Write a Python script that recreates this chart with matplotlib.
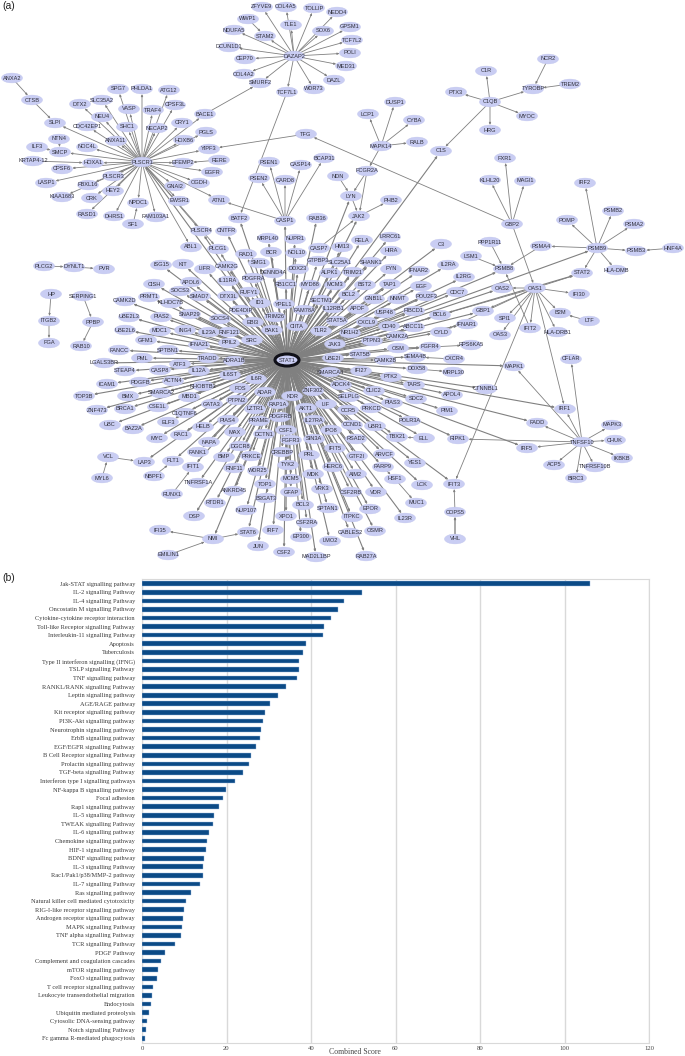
import matplotlib
matplotlib.use('Agg')
import matplotlib.pyplot as plt
from matplotlib.patches import Ellipse
import numpy as np

# network nodes in pixels, by region
names_a = ['ZFYVE9','COL4A5','TOLLIP','NEDD4','WWP1','TLE1','SOX6','NDUFA5','STAM2','DCUN1D1','DAZAP2','CEP70','COL4A2','SMURF2','TCF7L1','WDR73','DAZL','GPSM1','TCF7L2','POLI','MED31',
           'ANXA2','CTSB','SLPI','SPG7','PHLDA1','ATG12','DTX2','SLC35A2','VASP','TRAF4','CPSF3L','BACE1','NEU4','CRY1','CDC42EP1','SHC1','NECAP2','PGLS','NTN4','ANXA11','HOXB6','TFG','ILF3','NOC4L','YIPF3','SMCP','RERE','KRTAP4-12','HOXA1','PLSCR1','EFEMP2','CPSF6','EGFR','PLSCR3','LASP1','FBXL16','OGDH','GNAI2','PSEN1','CASP14','BCAP31','NDN','PSEN2','CARD8']
x_a = [262,286,314,337,248,291,323,234,265,229,294,245,244,260,287,314,334,350,352,350,346,
       12,32,55,118,142,169,80,102,129,153,175,205,102,182,87,127,157,206,59,116,184,306,37,87,209,60,219,33,93,142,183,62,212,113,46,88,199,175,269,301,324,338,259,285]
y_a = [7,7,8,12,19,25,31,30,36,47,56,59,74,83,92,89,80,27,40,53,66,
       78,100,123,89,89,90,104,100,109,110,105,114,117,123,126,127,128,132,139,141,140,134,147,147,149,152,160,161,163,162,163,169,172,176,183,185,183,186,162,165,158,176,178,180]

names_b = ['NCR2','C1R','TYROBP','TREM2','PTX3','C1QB','DUSP1','LCP1','MYOC','CYBA','HRG','RALB','MAPK14','C1S','FXR1','FCGR2A','KLHL20','MAGI1','IRF2']
x_b = [548,486,533,570,456,490,395,368,527,414,490,417,381,441,505,367,490,525,585]
y_b = [59,71,89,84,92,102,102,114,116,120,130,142,146,151,158,171,180,181,183]

names_c = ['HEY2','KIAA1683','CRK','NPDC1','EWSR1','ATN1','RASD1','DHRS1','FAM103A1','SF1','BATF2','CASP1','RAB36','PLSCR4','CNTFR','MRPL40','NUPR1','ABL1','PLCG1','RAD1','BCR','NOL10','CASP7','HM13','SMG1','GTPBP3','SLC25A1',
           'PLCG2','DYNLT1','PVR','ISG15','KIT','LIFR','CAMK2G','DENND4A','DDX23','ALPK1','HP','SERPING1','CISH','APOL6','IL11RA','PDGFRA','RB1CC1','MYD88','MCM3','SOCS3','SMAD7','DTX3L','RUFY1','PRMT1','SECTM1','KLHDC7B','ID1','YPEL1','CAMK2D','IL12RB1','PDE4DIP','FAM78A','SNAP29','TRIM26','UBE2L3','PIAS2','SOCS4','EBI3','ITGB2','PPBP','STAT5A','BAK1','CIITA','TLR2','UBE2L6','MDC1','ING4','IL23A','RNF121','GFM1','SRC','JAK3','PPIL2','IFNA21','FGA','RAB10','FANCC','SPTBN1','PML','TRADD','ADRA1B','STAT1','UBE2I','LGALS3BP','ATF3','CASP8','STEAP4','IL12A','IL6ST','SMARCA4','IL6R']
x_c = [113,62,92,138,179,219,87,114,156,133,239,285,317,201,226,268,295,191,218,246,271,296,319,342,259,318,340,
       44,74,104,161,183,205,227,273,298,330,51,83,154,191,228,253,286,310,335,180,200,228,249,149,321,171,260,284,125,333,241,304,190,275,129,161,220,253,49,93,337,272,297,321,125,160,185,209,229,146,252,335,229,199,49,81,119,168,142,208,234,287,333,104,180,160,125,199,230,330,256]
y_c = [191,197,198,203,201,200,214,216,217,224,218,221,218,231,231,238,239,247,249,254,252,253,248,247,263,261,262,
       266,267,269,265,264,269,266,273,269,273,294,296,284,282,281,278,284,285,285,291,296,296,292,297,300,303,303,304,301,308,310,310,314,317,317,317,319,322,321,322,321,330,326,331,330,331,330,332,332,340,340,344,343,345,343,346,350,350,358,358,361,360,358,363,364,370,371,371,375,372,379]

names_d = ['LYN','PHB2','JAK2','GBP2','PSMB2','POMP','PSMA2','LRRC61','RELA','C3','PPP1R11','PSMB9','PSMA4','PSMB3','HNF4A','HIRA','LSM1','SHANK1','IL2RA','PSMB8','HLA-DMB','STAT2','FYN','IFNAR2','TRIM21','IL2RG','BST2','TAP1','EGF','OAS1','OAS2','CDC7','IFI30','BCL2','GNB1L','NNMT','POU2F3','APOF','FIBCD1','GBP1','B2M','USP48','SPI1','BCL6','LTF','CXCL9','CD40','ABCC11','IFNAR1','IFIT2','HLA-DRB1','CYLD','NR1H2','CAMK2A','OAS3','PTPN3','OSM','FGFR4','RPS6KA5','STAT5B','CAMK2B','SEMA4B','CXCR4','CFLAR','MAPK1','DDX58','IFI27','MRPL30','PTK2']
x_d = [351,391,359,512,613,567,634,390,362,441,490,597,541,636,673,391,471,371,448,504,616,582,391,419,353,464,365,390,421,535,502,457,579,349,374,398,426,358,414,483,560,385,505,440,589,367,389,414,467,530,557,441,350,397,500,372,398,430,471,360,385,415,454,571,514,417,361,453,391]
y_d = [196,200,216,224,211,220,224,237,240,244,242,248,246,251,248,251,256,262,265,269,270,273,269,271,272,277,285,284,286,288,288,292,294,295,299,299,296,309,311,311,313,313,318,315,321,322,326,327,324,328,332,332,333,336,335,341,348,347,345,354,360,357,359,359,366,369,371,372,377]

names_e = ['ICAM1','PDGFB','ACTN4','RHOBTB3','FOS','ADAR','KDR','ZNF302','ADCK4','TOP3B','BMX','SMARCA2','MBD1','PTPN2','GATA3','RAP1A','LIF','SELPLG','ZNF473','BRCA1','CSE1L','LZTR1','AKT1','C1QTNF6','PDGFRB','PIAS4','PRAME','IL27RA','UBC','ELF3','HELB','BAZ2A','CSF1','IPO8','MAX','DCTN1','RAC1','MYC','SIN3A','FGFR3','NAPA','DGCR8','IFIT5','CREBBP','FANK1','PRKCE','PRL','VCL','BMP','FLT1','LAP3','TYK2','IFIT1','HERC6','RNF11','WDR25','MDK','NBPF1','MYL6','MCM5','TNFRSF1A','TOP1','VRK3','GFAP','ANKRD45','RUNX1','B3GAT3','RTDR1','BCL3','NUP107','SPTAN1','DSP','XPO1','CSF2RA','IFI35','IRF7','STAT6','EP300','NMI','LMO2','JUN','CSF2','EMILIN1','MAD2L1BP']
x_e = [107,140,173,203,240,265,292,313,341,84,128,161,189,237,212,278,326,349,97,125,158,255,306,185,280,228,259,314,110,168,203,133,286,331,235,264,181,157,314,291,209,240,335,282,198,251,309,108,224,173,144,288,193,333,234,258,313,154,102,291,198,265,322,291,234,172,266,215,303,246,328,194,286,307,160,273,248,301,213,330,258,284,168,316]
y_e = [384,382,381,386,388,392,396,391,385,396,396,393,397,400,404,404,404,397,410,409,407,409,408,413,417,420,421,420,425,422,427,429,430,430,432,434,435,438,439,440,442,446,448,452,452,456,455,457,457,461,462,465,467,467,468,471,474,476,478,479,483,484,489,492,491,494,498,503,505,510,508,516,516,523,530,530,532,537,539,541,546,552,555,557]

names_f = ['CTNNBL1','TARS','CLIC2','APOL4','SDC2','PIAS3','PIM1','PRKCD','CCR5','IRF1','POLR3A','FADD','MAPK3','CCND1','UBR1','TBX21','ELL','RIPK1','CHUK','TNFSF10','RSAD2','IRF5','GTF2I','ARVCF','IKBKB','YES1','PARP9','ACP5','TNFRSF10B','AIM2','HSF1','BIRC3','IFIT3','LCK','CSF2RB','VDR','MUC1','EPOR','COPS5','ITPKC','IL23R','OSMR','CABLES2','VHL','RAB27A']
x_f = [486,414,374,452,416,392,447,371,348,565,410,537,612,352,375,397,424,458,615,582,356,527,357,384,622,415,383,554,595,356,395,576,454,422,351,376,416,370,455,352,405,375,350,455,366]
y_f = [389,385,391,395,399,403,411,408,410,409,421,423,425,425,426,437,438,439,440,442,439,448,456,454,458,463,467,465,467,474,479,478,484,485,492,492,503,509,512,517,518,531,533,539,556]

# edges: hub -> neighbours (everything not listed in no_stat1 also links to STAT1)
hub_dazap2 = ['ZFYVE9','COL4A5','TOLLIP','NEDD4','TLE1','SOX6','NDUFA5','DCUN1D1','CEP70','COL4A2','SMURF2','TCF7L1','WDR73','DAZL','GPSM1','TCF7L2','POLI','MED31','STAM2']
hub_plscr1 = ['SPG7','PHLDA1','ATG12','DTX2','SLC35A2','VASP','TRAF4','CPSF3L','BACE1','NEU4','CRY1','CDC42EP1','SHC1','NECAP2','PGLS','ANXA11','HOXB6','SMCP','NOC4L','YIPF3','HOXA1','EFEMP2','CPSF6','EGFR','PLSCR3','LASP1','FBXL16','OGDH','GNAI2','HEY2','CRK','RASD1','DHRS1','NPDC1','FAM103A1','EWSR1','ATN1','PLSCR4','ABL1','SLPI','PLCG1','KIAA1683']
hub_casp1 = ['PSEN1','PSEN2','CARD8','CASP14','BCAP31','ATN1']
hub_c1qb = ['C1R','PTX3','HRG','MYOC','TYROBP','C1S']
hub_mapk14 = ['DUSP1','LCP1','CYBA','RALB','FCGR2A']
hub_gbp2 = ['KLHL20','FXR1','MAGI1','TFG','OAS1']
hub_psmb9 = ['POMP','PSMB2','PSMA2','PSMB3','HLA-DMB','STAT2','PSMA4','IRF2']
hub_oas1 = ['STAT2','IFI30','B2M','HLA-DRB1','IFIT2','SPI1','OAS2','GBP1','IFIT3','OAS3','BCL6','CYLD','IRF1']
hub_tnfsf10 = ['MAPK3','CHUK','IKBKB','TNFRSF10B','BIRC3','ACP5','IRF5','FADD','IRF1','MAPK1','RIPK1','CFLAR']
other_edges = [('ANXA2','CTSB'),('CTSB','SLPI'),('ILF3','SMCP'),('NTN4','SMCP'),('KRTAP4-12','HOXA1'),('RERE','EFEMP2'),('SF1','NPDC1'),
               ('WWP1','STAM2'),('BACE1','SMURF2'),('TCF7L1','BATF2'),('TFG','YIPF3'),('NCR2','TYROBP'),('TREM2','TYROBP'),
               ('FCGR2A','LYN'),('FCGR2A','JAK2'),('NDN','LYN'),('CASP7','JAK2'),('JAK2','PHB2'),('LYN','JAK2'),
               ('PLCG2','DYNLT1'),('DYNLT1','PVR'),('HP','ITGB2'),('ITGB2','FGA'),('SERPING1','PPBP'),('PPBP','RAB10'),
               ('HNF4A','PSMB3'),('LSM1','PSMB8'),('PPP1R11','PSMB8'),('PSMA4','PSMB8'),('LTF','B2M'),('IFIT2','PSMB8'),
               ('FGFR4','RPS6KA5'),('OSM','FGFR4'),('CXCR4','SEMA4B'),('DDX58','MRPL30'),
               ('VHL','COPS5'),('VHL','COPS5'),('COPS5','IFIT3'),('MYL6','VCL'),('VCL','LAP3'),('NBPF1','FLT1'),('RUNX1','IFIT1'),
               ('NMI','IFI35'),('EMILIN1','NMI'),('NMI','STAT6'),('HSF1','MUC1'),('PARP9','HSF1'),('ELL','TBX21')]
no_stat1 = set(hub_dazap2 + hub_plscr1 + hub_casp1 + hub_mapk14 + hub_gbp2 + hub_tnfsf10 + hub_c1qb)
no_stat1 |= {'DAZAP2','WWP1','STAM2','ANXA2','CTSB','SLPI','ILF3','NTN4','KRTAP4-12','RERE','SF1','TFG','NCR2','TREM2','TYROBP','C1QB','C1R','MAPK14','GBP2',
             'NDN','PHB2','PLCG2','DYNLT1','PVR','HP','ITGB2','FGA','SERPING1','PPBP','RAB10','POMP','PSMB2','PSMA2','PSMB3','HNF4A','HLA-DMB','IRF2','LSM1','PPP1R11','PSMA4',
             'IFI30','B2M','LTF','HLA-DRB1','IFIT2','SPI1','OAS3','RPS6KA5','CXCR4','MRPL30','CTNNBL1','COPS5','VHL','MYL6','VCL','NBPF1','RUNX1','IFI35','EMILIN1','MUC1','STAT1','CASP7',
             'SMURF2','BATF2','HSF1','TNFSF10'}
no_stat1 -= {'C1S','BATF2','PLCG1','PLSCR4','MAPK1','FADD','IRF1','IRF5','RIPK1','CASP1','CTNNBL1'}

# pathway bars
pathways = ['Jak-STAT signalling pathway','IL-2 signalling Pathway','IL-4 signalling Pathway','Oncostatin M signalling Pathway','Cytokine-cytokine receptor interaction','Toll-like Receptor signalling Pathway','Interleukin-11 signalling Pathway','Apoptosis','Tuberculosis','Type II interferon signalling (IFNG)','TSLP signalling Pathway','TNF signalling pathway','RANKL/RANK signalling Pathway','Leptin signalling pathway','AGE/RAGE pathway','Kit receptor signalling pathway','PI3K-Akt signalling pathway','Neurotrophin signalling pathway','ErbB signalling pathway','EGF/EGFR signalling Pathway','B Cell Receptor signalling Pathway','Prolactin signalling pathway','TGF-beta signalling Pathway','Interferon type I signalling pathways','NF-kappa B signalling pathway','Focal adhesion','Rap1 signalling pathway','IL-5 signalling Pathway','TWEAK signalling Pathway','IL-6 signalling pathway','Chemokine signalling pathway','HIF-1 signalling pathway','BDNF signalling pathway','IL-3 signalling Pathway','Rac1/Pak1/p38/MMP-2 pathway','IL-7 signalling Pathway','Ras signalling pathway','Natural killer cell mediated cytotoxicity','RIG-I-like receptor signalling pathway','Androgen receptor signalling pathway','MAPK signalling Pathway','TNF alpha signalling Pathway','TCR signalling Pathway','PDGF Pathway','Complement and coagulation cascades','mTOR signalling pathway','FoxO signalling pathway','T cell receptor signalling pathway','Leukocyte transendothelial migration','Endocytosis','Ubiquitin mediated proteolysis','Cytosolic DNA-sensing pathway','Notch signalling Pathway','Fc gamma R-mediated phagocytosis']
scores = [106,52.1,47.7,46.5,44.7,43.1,42.9,38.8,38.1,37.2,37.2,36.8,34.2,32.3,30.3,29.1,28.7,28.2,28.0,27.0,25.7,25.3,24.0,21.9,19.8,19.2,18.2,17.0,16.8,15.9,15.5,15.1,14.7,14.4,14.4,13.8,11.6,10.3,10.0,9.7,9.4,9.3,7.8,5.4,4.6,3.8,3.6,2.6,2.4,2.1,1.7,1.1,1.0,0.8]
score_ticks = [0,20,40,60,80,100,120]

W, H = 685, 1056
fig = plt.figure(figsize=(W/100, H/100), dpi=100)

# network panel, one data unit is one pixel
ax = fig.add_axes([0, 0, 1, 1])
ax.set_xlim(0, W)
ax.set_ylim(H, 0)
ax.axis('off')

pos = {}
for nn, xx, yy in [(names_a,x_a,y_a),(names_b,x_b,y_b),(names_c,x_c,y_c),(names_d,x_d,y_d),(names_e,x_e,y_e),(names_f,x_f,y_f)]:
    for n, a, b in zip(nn, xx, yy, strict=True):
        pos[n] = (a, b)

edges = list(other_edges)
for hub, leaves in [('DAZAP2',hub_dazap2),('PLSCR1',hub_plscr1),('CASP1',hub_casp1),('C1QB',hub_c1qb),('MAPK14',hub_mapk14),('GBP2',hub_gbp2),('PSMB9',hub_psmb9),('OAS1',hub_oas1),('TNFSF10',hub_tnfsf10)]:
    edges += [(hub, leaf) for leaf in leaves]
edges += [('STAT1', n) for n in pos if n not in no_stat1]

def ellipse_end(p, q, rx=10.5, ry=5):
    # point where the edge from p meets the ellipse round q
    dx, dy = p[0]-q[0], p[1]-q[1]
    t = 1/np.sqrt((dx/rx)**2 + (dy/ry)**2)
    return (q[0]+dx*t, q[1]+dy*t)

for a, b in edges:
    p, q = pos[a], pos[b]
    ax.annotate('', xy=ellipse_end(p, q), xytext=p, zorder=1,
                arrowprops=dict(arrowstyle='-|>,head_length=0.35,head_width=0.15', color='#808080',
                                lw=0.8 if a == 'STAT1' else 0.6,
                                shrinkA=0, shrinkB=0, mutation_scale=3.5))

for n, (a, b) in pos.items():
    if n == 'STAT1':
        ax.add_patch(Ellipse((a, b), 24, 12, fc='#c9cdf3', ec='#101018', lw=2.2, zorder=2))
    else:
        ax.add_patch(Ellipse((a, b), 21, 9.8, fc='#c9cdf3', ec='#c0c4ee', lw=0.3, zorder=2))
    ax.text(a, b, n, ha='center', va='center', fontsize=4.1, family='Liberation Sans', color='#2f2f3a', zorder=3)

ax.text(2, 6, '(a)', fontsize=7.5, family='Liberation Sans', color='#222222', va='center')
ax.text(2, 578, '(b)', fontsize=7.5, family='Liberation Sans', color='#222222', va='center')

# bar panel
bx = fig.add_axes([142/W, 1-1042.7/H, (649-142)/W, (1042.7-579)/H])
ypos = np.arange(len(pathways))
bx.barh(ypos, scores, height=0.54, color='#0b4a86', edgecolor='#9dbbe0', linewidth=0.3, zorder=3)
bx.set_xlim(0, 120)
bx.set_ylim(53.51, -0.55)
bx.set_yticks(ypos)
bx.set_yticklabels(pathways, fontsize=4.55, family='Liberation Serif', color='#3a3a3a')
bx.set_xticks(score_ticks)
bx.set_xticklabels(score_ticks, fontsize=4.8, family='Liberation Serif', color='#444444')
bx.tick_params(axis='y', length=0, pad=5)
bx.tick_params(axis='x', length=0, pad=2.5)
bx.grid(axis='x', color='#d9d9d9', lw=1, zorder=0)
for s in ['left', 'top', 'bottom', 'right']:
    bx.spines[s].set_color('#d9d9d9')
    bx.spines[s].set_linewidth(0.8)
ax.text(355, 1052, 'Combined Score', ha='center', va='center', fontsize=5.6, family='Liberation Serif', color='#444444')

fig.savefig('out.png', dpi=100)
